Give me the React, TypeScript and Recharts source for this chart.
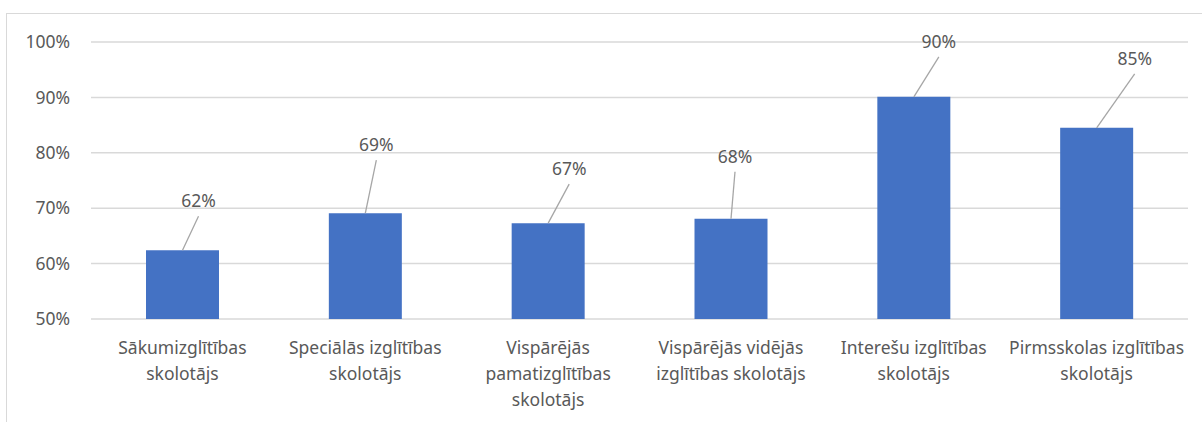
import React from "react";
import { BarChart, Bar, XAxis, YAxis, CartesianGrid, LabelList } from "recharts";

const categories = [
  "Sākumizglītības\nskolotājs",
  "Speciālās izglītības\nskolotājs",
  "Vispārējās\npamatizglītības\nskolotājs",
  "Vispārējās vidējās\nizglītības skolotājs",
  "Interešu izglītības\nskolotājs",
  "Pirmsskolas izglītības\nskolotājs",
];
const values = [62.4, 69.1, 67.3, 68.1, 90.1, 84.5];
const yTicks = [50, 60, 70, 80, 90, 100];

// where each data label sits, relative to the top centre of its bar
const labelOffsets = [
  [16, -50],
  [11, -69],
  [21, -55],
  [4, -63],
  [25, -56],
  [38, -70],
];

const data = categories.map((name, i) => ({ name, value: values[i] }));

const FONT = "'Segoe UI', 'Noto Sans', sans-serif";
const TEXT = "#595959";
const FS = 17.5;

const CategoryTick = (props: any) => {
  const { x, y, payload } = props;
  const lines = String(payload.value).split("\n");
  return (
    <text x={x} y={y} textAnchor="middle" fill={TEXT} fontSize={FS} fontFamily={FONT}>
      {lines.map((l, i) => (
        <tspan key={i} x={x} dy={i === 0 ? 27 : 26}>
          {l}
        </tspan>
      ))}
    </text>
  );
};

const LeaderLabel = (props: any) => {
  const { x, y, width, value, index } = props;
  const cx = x + width / 2;
  const [dx, dy] = labelOffsets[index];
  const lx = cx + dx;
  const ly = y + dy;
  return (
    <g>
      <line x1={cx} y1={y} x2={lx} y2={ly + 16} stroke="#a6a6a6" strokeWidth={1.3} />
      <text
        x={lx}
        y={ly}
        textAnchor="middle"
        dominantBaseline="central"
        fill={TEXT}
        fontSize={FS}
        fontFamily={FONT}
      >
        {Math.round(value)}%
      </text>
    </g>
  );
};

export default function App() {
  return (
    <div style={{ position: "absolute", left: 0, top: 0, width: 1202, height: 422, background: "#fff", overflow: "hidden" }}>
      <div
        style={{
          position: "absolute",
          left: 6,
          top: 13,
          width: 1300,
          height: 500,
          border: "1px solid #d9d9d9",
          boxSizing: "border-box",
        }}
      />
      <div style={{ position: "absolute", left: 0, top: 0 }}>
        <BarChart
          width={1202}
          height={422}
          data={data}
          margin={{ top: 42, right: 14, bottom: 73, left: 0 }}
          barSize={73}
        >
          <CartesianGrid vertical={false} stroke="#d9d9d9" strokeWidth={1.5} />
          <XAxis
            dataKey="name"
            axisLine={false}
            tickLine={false}
            interval={0}
            tick={<CategoryTick />}
          />
          <YAxis
            width={91}
            domain={[50, 100]}
            ticks={yTicks}
            axisLine={false}
            tickLine={false}
            tickSize={0}
            tickMargin={21}
            tickFormatter={(v: number) => `${v}%`}
            tick={{ fill: TEXT, fontSize: FS, fontFamily: FONT }}
          />
          <Bar dataKey="value" fill="#4472c4" isAnimationActive={false}>
            <LabelList dataKey="value" content={<LeaderLabel />} />
          </Bar>
        </BarChart>
      </div>
    </div>
  );
}
